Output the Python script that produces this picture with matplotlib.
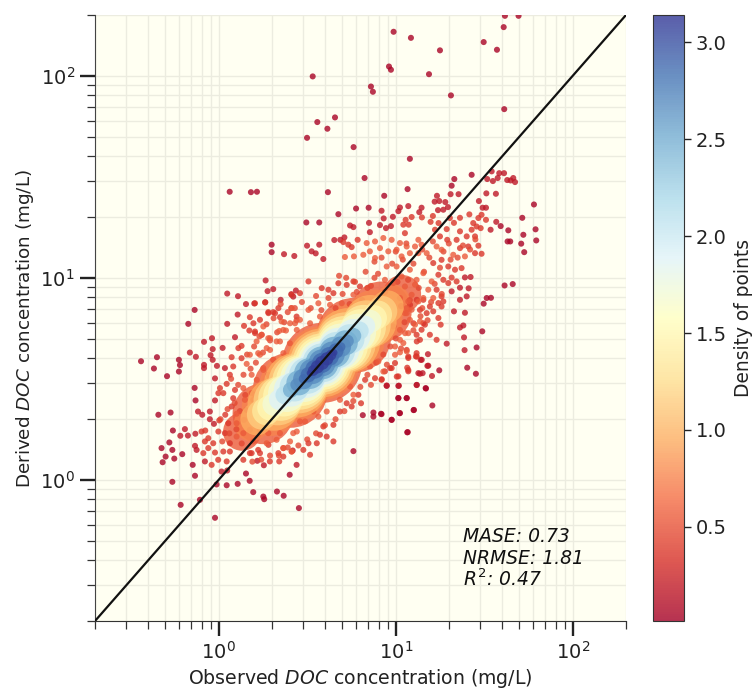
import numpy as np
import matplotlib
matplotlib.use("Agg")
import matplotlib.pyplot as plt
from matplotlib.cm import ScalarMappable
from matplotlib.colors import Normalize
from matplotlib.ticker import LogLocator, NullFormatter

# all points are (log10 observed, log10 derived)
sparse_pts = [
    (0.531,1.997),(0.657,1.794),(0.557,1.771),(0.614,1.738),(0.499,1.693),(0.762,1.647),(0.062,1.426),(0.182,1.424),
    (0.216,1.426),(0.617,1.424),(0.776,1.343),(0.676,1.315),(0.495,1.274),(0.568,1.274),(0.299,1.164),(0.299,1.127),
    (1.617,2.297),(1.694,2.297),(1.610,2.241),(0.988,2.218),(1.086,2.188),(1.497,2.167),(1.572,2.129),(1.250,2.126),
    (0.962,2.046),(0.973,2.030),(1.188,2.008),(0.860,1.947),(0.871,1.921),(1.312,1.903),(1.613,1.835),(1.080,1.589),
    (0.824,1.494),(1.331,1.489),(1.429,1.510),(1.316,1.456),(1.067,1.439),(0.935,1.406),(1.781,1.363),(0.847,1.347),
    (1.715,1.297),(1.593,1.256),(1.636,1.235),(1.790,1.240),(1.721,1.213),(1.632,1.180),(1.647,1.180),(1.709,1.169),
    (1.794,1.185),(1.726,1.127),(1.615,0.962),(1.661,0.969),(1.514,0.900),(1.538,0.901),(1.497,0.872),(1.489,0.735),
    (1.457,0.655),(1.404,0.555),(1.453,0.525),(1.246,0.542),(1.171,0.452),(1.207,0.368),(1.101,0.345),(1.022,0.330),
    (0.920,0.325),(0.977,0.297),(1.065,0.235),(1.015,0.405),(1.062,0.405),(-0.439,0.587),(-0.349,0.607),(-0.366,0.551),
    (-0.225,0.594),(-0.219,0.568),(-0.225,0.536),(-0.292,0.513),(-0.136,0.841),(-0.172,0.772),(-0.136,0.455),(-0.131,0.393),
    (-0.272,0.333),(-0.341,0.322),(-0.259,0.244),(-0.323,0.157),(-0.279,0.185),(-0.262,0.148),(-0.300,0.115),(-0.317,0.087),
    (-0.251,0.105),(-0.206,0.127),(-0.147,0.074),(-0.134,0.020),(-0.262,-0.010),(0.154,0.031),(0.175,-0.005),(0.401,0.025),
    (-0.012,-0.023),(0.045,-0.027),(0.107,-0.020),(0.195,-0.061),(0.252,-0.083),(0.257,-0.096),(0.329,-0.058),(0.367,-0.079),
    (-0.106,-0.099),(-0.215,-0.124),(-0.021,-0.188),(0.453,-0.140),(0.761,0.142),(1.068,0.236),(0.977,0.297),(0.874,0.333),
    (0.874,0.313),(0.917,0.327),(1.024,0.330),(1.103,0.346),(1.015,0.404),(1.062,0.404),(0.949,0.465),(1.015,0.465),
    (1.119,0.470),(1.169,0.454),(0.814,0.320),
]

red_pts = [
    (0.742,1.259),(0.761,1.251),(0.653,1.187),(0.710,1.200),(0.687,1.188),(0.499,1.159),(0.568,1.164),(0.525,1.131),
    (0.548,1.121),(0.369,1.117),(0.427,1.108),(0.591,1.093),(1.233,1.406),(1.512,1.418),(1.566,1.416),(1.310,1.414),
    (1.355,1.414),(1.542,1.527),(1.585,1.518),(1.612,1.518),(1.517,1.489),(1.549,1.479),(1.576,1.494),(1.630,1.484),
    (1.649,1.482),(1.664,1.494),(1.674,1.474),(1.470,1.380),(0.920,1.332),(1.024,1.348),(1.015,1.330),(1.071,1.355),
    (1.146,1.347),(1.133,1.325),(1.220,1.377),(1.246,1.380),(1.280,1.375),(1.295,1.350),(1.239,1.335),(1.269,1.337),
    (1.491,1.347),(1.510,1.347),(0.932,1.294),(0.849,1.272),(0.984,1.302),(1.568,1.277),(1.536,1.238),(0.854,1.226),
    (0.911,1.261),(0.945,1.246),(0.973,1.256),(1.391,1.002),(1.423,1.004),(1.363,0.951),(1.412,0.948),(1.316,0.933),
    (1.401,0.908),(1.363,0.891),(1.329,0.834),(1.391,0.827),(1.382,0.764),(1.363,0.754),(1.386,0.705),(1.288,0.674),
    (1.389,0.642),(1.182,0.622),(1.141,0.594),(1.184,0.565),(1.128,0.528),(1.152,0.528),(1.205,0.514),(1.118,0.469),
    (1.018,0.466),(0.949,0.467),(0.265,0.987),(0.048,0.922),(0.109,0.909),(0.276,0.934),(0.308,0.944),(0.154,0.870),
    (0.201,0.873),(0.263,0.879),(0.350,0.891),(0.410,0.919),(0.436,0.937),(0.421,0.907),(0.107,0.818),(0.048,0.772),
    (0.092,0.706),(-0.038,0.701),(-0.083,0.683),(0.022,0.653),(-0.034,0.647),(-0.163,0.630),(-0.129,0.609),(-0.046,0.617),
    (-0.034,0.594),(-0.083,0.569),(-0.083,0.553),(-0.010,0.564),(0.035,0.553),(-0.021,0.502),(-0.021,0.393),(-0.117,0.338),
    (-0.093,0.322),(-0.050,0.338),(-0.050,0.300),(-0.027,0.277),(-0.191,0.251),(-0.217,0.218),(-0.174,0.219),(-0.132,0.228),
    (-0.134,0.168),(-0.125,0.148),(-0.078,0.091),(0.016,0.041),(0.048,0.046),(0.218,0.094),(0.255,0.072),(0.440,0.074),
    (0.418,0.145),(1.137,0.525),(1.179,0.564),(1.147,0.594),
]

redorange_pts = [
    (0.704,1.177),(0.732,1.164),(0.751,1.152),(0.785,1.188),(1.438,1.271),(1.467,1.296),(1.485,1.312),(1.510,1.287),
    (1.457,1.254),(1.480,1.246),(1.429,1.238),(1.416,1.314),(1.363,1.297),(1.306,1.296),(1.329,1.272),(1.210,1.306),
    (1.148,1.299),(1.090,1.301),(1.056,1.287),(1.043,1.263),(1.073,1.263),(1.052,1.221),(1.242,1.271),(1.197,1.277),
    (1.288,1.241),(1.250,1.205),(1.222,1.238),(1.363,1.230),(1.401,1.205),(1.448,1.205),(1.344,1.188),(1.291,1.188),
    (1.448,1.122),(1.485,1.119),(1.467,1.159),(1.410,1.155),(1.363,1.147),(1.212,1.073),(1.259,1.089),(1.297,1.056),
    (1.335,1.040),(1.372,1.048),(1.241,1.015),(1.269,0.990),(1.316,1.001),(1.344,0.982),(1.297,0.974),(1.231,0.941),
    (1.259,0.908),(1.241,0.875),(1.269,0.883),(1.259,0.858),(1.212,0.834),(1.175,0.825),(1.241,0.801),(1.254,0.768),
    (1.165,0.768),(1.193,0.718),(1.231,0.693),(1.137,0.693),(1.118,0.627),(1.114,0.611),(1.071,0.603),(1.065,0.555),
    (1.071,0.537),(0.996,0.578),(0.977,0.553),(0.939,0.537),(1.015,0.512),(0.920,0.495),(0.412,0.916),(0.459,0.924),
    (0.507,0.982),(0.582,0.949),(0.620,0.941),(0.648,0.924),(0.676,0.973),(0.723,0.965),(0.761,0.982),(0.798,0.957),
    (0.205,0.874),(0.262,0.878),(0.281,0.825),(0.318,0.825),(0.233,0.792),(0.196,0.775),(0.205,0.726),(0.243,0.718),
    (0.176,0.805),(0.346,0.805),(0.440,0.808),(0.337,0.850),(0.280,0.830),(0.308,0.830),(0.410,0.850),(0.143,0.762),
    (0.173,0.739),(0.205,0.734),(0.129,0.663),(0.111,0.652),(0.073,0.607),(0.129,0.602),(0.082,0.561),(0.063,0.520),
    (0.007,0.454),(-0.002,0.429),(0.026,0.429),(0.045,0.475),(0.092,0.445),(0.082,0.404),(0.073,0.363),(0.037,0.322),
    (0.003,0.294),(0.054,0.280),(-0.002,0.239),(0.035,0.231),(-0.097,0.239),(-0.076,0.244),(-0.078,0.190),(-0.059,0.206),
    (-0.031,0.181),(-0.059,0.157),(-0.021,0.135),(-0.087,0.132),(-0.040,0.074),(-0.003,0.099),(0.045,0.091),(0.063,0.181),
    (0.026,0.140),(0.063,0.140),(0.139,0.099),(0.289,0.091),(0.342,0.091),(0.365,0.115),(0.176,0.132),(0.223,0.148),
    (0.186,0.132),(0.233,0.132),(0.281,0.173),(0.337,0.132),(0.365,0.157),(0.412,0.140),(0.478,0.148),(0.516,0.124),
    (0.507,0.181),(0.554,0.181),(0.572,0.223),(0.610,0.214),(0.648,0.190),(0.591,0.264),(0.648,0.272),(0.685,0.338),
    (0.723,0.379),(0.751,0.363),(0.789,0.421),(0.804,0.379),(0.827,0.495),(0.883,0.503),(0.921,0.498),(0.968,0.553),
    (1.006,0.511),(1.071,0.544),(1.062,0.643),(1.119,0.610),(1.071,0.610),(1.119,0.685),(1.156,0.775),(1.100,0.775),
    (1.119,0.891),(1.081,0.866),(1.137,0.841),(1.156,0.891),(1.193,0.858),(1.146,0.743),(1.118,0.718),
]

midband_pts = [
    (.86,.96),(.90,1.02),(.94,.93),(.98,1.07),(1.01,.98),(1.04,1.09),(1.07,.99),(1.10,1.07),(1.13,.95),(1.16,1.03),
    (1.19,1.10),(1.22,.97),(1.25,1.05),(.92,1.10),(.88,1.08),(1.0,1.13),(1.06,1.17),(1.15,1.14),(1.21,1.18),(1.27,1.13),
    (1.31,1.09),(1.30,1.17),(1.35,1.10),(1.38,1.16),(1.42,1.14),(1.45,1.19),(1.26,.92),(1.20,.88),(1.15,.85),(1.08,.89),
    (1.03,.86),(1.14,.81),(1.18,.79),(1.10,.74),(1.05,.78),(1.0,.70),(.97,.66),(1.03,.65),(.93,.62),(.89,.58),
    (.95,.57),(.84,.52),(.80,.46),(.86,.47),(.76,.39),(.71,.34),(.66,.30),(.60,.27),(.55,.23),(.50,.20),
    (.45,.17),(.39,.16),(.34,.12),(.29,.12),(.24,.10),(.19,.09),(.02,.19),(.06,.23),(.10,.25),(.13,.18),
    (.01,.30),(.05,.35),(.09,.38),(.12,.34),(.15,.42),(.11,.47),(.07,.50),(.14,.52),(.18,.55),(.16,.62),
    (.21,.58),(.20,.66),(.25,.63),(.23,.71),(.29,.69),(.27,.77),(.33,.73),(.31,.80),(.37,.78),(.39,.83),
    (.35,.87),(.43,.85),(.47,.88),(.44,.79),(.52,.85),(.55,.91),(.58,.84),(.62,.90),(.66,.85),(.70,.92),
    (.74,.87),(.78,.93),(.81,.89),(.84,.95),(.77,.98),(.72,1.0),(.68,1.01),(.83,1.03),(.88,1.0),
]

orange_pts = [
    (0.713,1.103),(0.764,1.106),(0.836,1.172),(0.883,1.180),(0.930,1.197),(0.977,1.188),(1.024,1.172),(0.854,1.131),
    (0.911,1.147),(0.958,1.131),(1.005,1.139),(1.062,1.155),(0.817,1.114),(0.883,1.098),(1.033,1.106),(1.080,1.122),
    (1.128,1.188),(1.109,1.155),(1.146,1.164),(1.175,1.122),(1.128,1.122),(1.231,1.155),(1.259,1.139),(1.325,1.114),
    (1.391,1.106),(1.203,0.982),(1.156,1.023),(1.118,0.990),(1.184,0.941),(1.212,0.900),(1.156,0.900),(1.128,0.883),
    (1.080,1.040),(1.033,1.007),(0.986,0.974),(1.052,0.957),(1.109,0.966),(0.949,1.056),(1.005,1.056),(0.939,0.990),
    (1.090,0.916),(1.024,0.900),(1.071,0.883),(1.052,0.825),(1.062,0.850),(1.090,0.842),(1.080,0.792),(1.137,0.784),
    (1.109,0.768),(1.071,0.726),(1.043,0.677),(1.062,0.636),(1.024,0.631),(0.996,0.619),(1.053,0.726),(1.024,0.693),
    (0.987,0.759),(1.024,0.742),(1.062,0.825),(0.996,0.660),(0.930,0.536),(0.902,0.586),(0.855,0.561),(0.761,0.421),
    (0.742,0.462),(0.685,0.396),(0.610,0.338),(0.563,0.313),(0.535,0.338),(0.488,0.289),(0.459,0.289),(0.441,0.239),
    (0.412,0.140),(0.365,0.157),(0.139,0.231),(0.101,0.214),(0.195,0.190),(0.271,0.181),(0.327,0.198),(0.403,0.190),
    (0.421,0.231),(0.346,0.231),(0.101,0.280),(0.143,0.297),(0.101,0.327),(0.139,0.454),(0.148,0.396),(0.186,0.429),
    (0.158,0.574),(0.186,0.520),(0.176,0.619),(0.214,0.685),(0.242,0.718),(0.280,0.701),(0.327,0.685),(0.223,0.627),
    (0.271,0.652),(0.355,0.784),(0.252,0.759),(0.342,0.737),(0.380,0.739),(0.431,0.775),(0.403,0.775),(0.459,0.792),
    (0.516,0.775),(0.572,0.808),(0.629,0.866),(0.695,0.874),(0.761,0.916),(0.507,0.841),(0.563,0.874),(0.412,0.850),
    (0.365,0.742),(0.441,0.742),(0.346,0.685),(0.290,0.701),(0.290,0.643),(0.233,0.619),(0.309,0.594),(0.252,0.553),
    (0.215,0.495),(0.281,0.520),(0.205,0.421),(0.271,0.454),(0.233,0.371),(0.186,0.330),(0.252,0.544),(0.308,0.594),
    (0.365,0.627),(0.402,0.676),(0.233,0.462),(0.289,0.511),(0.195,0.396),(0.252,0.412),(0.214,0.346),(0.271,0.363),
    (0.195,0.313),(0.233,0.363),(0.271,0.297),(0.176,0.247),(0.233,0.247),(0.280,0.231),(0.158,0.346),
]

# the filled core, one row of blobs per density level, low to high
core_density = [0.55, 0.75, 0.95, 1.15, 1.35, 1.50, 1.70, 1.90, 2.10, 2.50, 2.70, 2.88, 3.10]
core_x = [
    [.132,.250,.404,.584,.764,.918,1.036],[.185,.289,.425,.584,.743,.879,.983],[.215,.311,.437,.584,.731,.857,.953],
    [.245,.334,.449,.584,.719,.834,.923],[.268,.350,.458,.584,.710,.818,.900],[.290,.367,.467,.584,.701,.801,.878],
    [.313,.384,.476,.584,.692,.784,.855],[.343,.406,.488,.584,.680,.762,.825],[.373,.428,.500,.584,.668,.740,.795],
    [.407,.453,.513,.584,.655,.715,.761],[.441,.478,.527,.584,.641,.690,.727],[.479,.506,.542,.584,.626,.662,.689],
    [.516,.534,.557,.584,.611,.634,.652],
]
core_y = [
    [.238,.327,.443,.579,.715,.831,.920],[.278,.356,.459,.579,.699,.802,.880],[.301,.373,.468,.579,.690,.785,.857],
    [.323,.390,.477,.579,.681,.768,.835],[.340,.403,.484,.579,.674,.755,.818],[.357,.415,.491,.579,.667,.743,.801],
    [.374,.428,.498,.579,.660,.730,.784],[.397,.445,.507,.579,.651,.713,.761],[.420,.461,.516,.579,.642,.697,.738],
    [.445,.480,.526,.579,.632,.678,.713],[.471,.499,.536,.579,.622,.659,.687],[.500,.520,.547,.579,.611,.638,.658],
    [.528,.541,.559,.579,.599,.617,.630],
]
core_halfwidth = [40, 37, 34.5, 32, 29.5, 27, 24.5, 22, 19.5, 16.5, 13.5, 10, 7]
core_profile = [.475, .76, .937, 1, .937, .76, .475]

axis_lim = (0.2, 200)
stats = ["MASE: 0.73", "NRMSE: 1.81", "$R^2$: 0.47"]

dpi = 100
fig = plt.figure(figsize=(7.54, 6.90), dpi=dpi)
ax = fig.add_axes([95/754, 69/690, 531/754, 606/690])
cax = fig.add_axes([653/754, 69/690, 31/754, 606/690])

norm = Normalize(vmin=0.015, vmax=3.14)
cmap = "RdYlBu"


def draw_band(pts, density):
    pts = np.array(pts)
    ax.scatter(10 ** pts[:, 0], 10 ** pts[:, 1], c=np.full(len(pts), density), cmap=cmap, norm=norm,
               s=19, alpha=0.8, linewidths=0, zorder=3)


def draw_core(i):
    w = core_halfwidth[i] * np.array(core_profile)
    ax.scatter(10 ** np.array(core_x[i]), 10 ** np.array(core_y[i]), c=np.full(len(w), core_density[i]),
               cmap=cmap, norm=norm, s=(2 * w * 72 / dpi) ** 2, alpha=0.8, linewidths=0, zorder=2 if i < 2 else 4)


# two lowest levels go under the dots so the dots break up their edge
draw_core(0)
draw_core(1)
draw_band(sparse_pts, 0.05)
draw_band(red_pts, 0.18)
draw_band(redorange_pts, 0.36)
draw_band(midband_pts, 0.45)
draw_band(orange_pts, 0.55)
for i in range(2, len(core_density)):
    draw_core(i)

ax.plot(axis_lim, axis_lim, color="#111111", lw=1.6, zorder=5)

ax.set_xscale("log")
ax.set_yscale("log")
ax.set_xlim(axis_lim)
ax.set_ylim(axis_lim)
ax.set_facecolor("#fffff2")
ax.spines["top"].set_visible(False)
ax.spines["right"].set_visible(False)
ax.spines["left"].set_color("#444444")
ax.spines["bottom"].set_color("#333333")
for axis in (ax.xaxis, ax.yaxis):
    axis.set_major_locator(LogLocator(base=10, numticks=10))
    axis.set_minor_locator(LogLocator(base=10, subs=np.arange(2, 10) * 0.1, numticks=20))
    axis.set_minor_formatter(NullFormatter())
ax.tick_params(which="major", length=11, width=1.7, labelsize=14, color="#222222", labelcolor="#222222")
ax.tick_params(which="minor", length=5.5, width=0.9, color="#333333")
ax.grid(True, which="both", color="#ecece0", lw=1.0)
ax.set_axisbelow(True)

ax.set_xlabel("Observed $\\it{DOC}$ concentration (mg/L)", fontsize=13.6, color="#222222", labelpad=3)
ax.set_ylabel("Derived $\\it{DOC}$ concentration (mg/L)", fontsize=13.2, color="#222222", labelpad=3, y=0.483)

for txt, yy in zip(stats, [537, 558, 579]):
    ax.text((463 - 95) / 531, (621 - yy) / 606, txt, transform=ax.transAxes, fontsize=13.5, style="italic",
            color="#111111", va="center", ha="left")

cb = fig.colorbar(ScalarMappable(norm=norm, cmap=cmap), cax=cax, alpha=0.8)
cb.set_ticks([0.5, 1.0, 1.5, 2.0, 2.5, 3.0])
cb.ax.tick_params(labelsize=14, length=5, width=1, color="#222222", labelcolor="#222222")
cb.set_label("Density of points", fontsize=13.4, color="#222222", labelpad=5)
cb.outline.set_edgecolor("#333333")

fig.savefig("out.png", dpi=dpi)
